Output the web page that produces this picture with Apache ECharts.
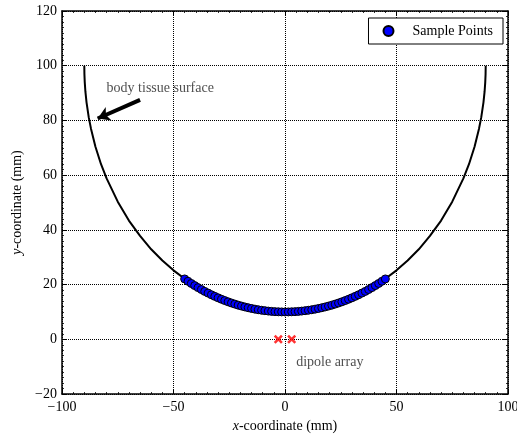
<!DOCTYPE html>
<html>
<head>
<meta charset="utf-8">
<script src="https://cdn.jsdelivr.net/npm/echarts@6/dist/echarts.min.js"></script>
<style>
html,body{margin:0;padding:0;background:#fff;overflow:hidden;}
#chart{width:517px;height:434px;}
</style>
</head>
<body>
<div id="chart"></div>
<script>
// body tissue surface
var surfaceX=[-90,-89.95,-89.8,-89.5,-89,-88,-87,-85,-82.5,-80,-75,-70,-65,-60,-55,-50,-45,-40,-35,-30,-25,-20,-15,-10,-5,0,
	5,10,15,20,25,30,35,40,45,50,55,60,65,70,75,80,82.5,85,87,88,89,89.5,89.8,89.95,90];
var surfaceY=[100,97.0,94.0,90.5,86.6,81.1,77.0,70.4,64.0,58.8,50.3,43.4,37.8,32.9,28.8,25.2,22.1,19.4,17.1,15.2,13.5,12.3,11.3,10.6,10.1,10.0,
	10.1,10.6,11.3,12.3,13.5,15.2,17.1,19.4,22.1,25.2,28.8,32.9,37.8,43.4,50.3,58.8,64.0,70.4,77.0,81.1,86.6,90.5,94.0,97.0,100];
// sample points
var sampleX=[-45,-43.5,-42,-40.5,-39,-37.5,-36,-34.5,-33,-31.5,-30,-28.5,-27,-25.5,-24,-22.5,-21,-19.5,-18,-16.5,-15,
	-13.5,-12,-10.5,-9,-7.5,-6,-4.5,-3,-1.5,0,1.5,3,4.5,6,7.5,9,10.5,12,13.5,
	15,16.5,18,19.5,21,22.5,24,25.5,27,28.5,30,31.5,33,34.5,36,37.5,39,40.5,42,43.5,45];
var sampleY=[22.06,21.21,20.40,19.63,18.89,18.19,17.51,16.88,16.27,15.69,15.15,14.63,14.15,13.69,13.26,12.86,12.48,12.14,11.82,11.53,11.26,
	11.02,10.80,10.61,10.45,10.31,10.20,10.11,10.05,10.01,10.00,10.01,10.05,10.11,10.20,10.31,10.45,10.61,10.80,11.02,
	11.26,11.53,11.82,12.14,12.48,12.86,13.26,13.69,14.15,14.63,15.15,15.69,16.27,16.88,17.51,18.19,18.89,19.63,20.40,21.21,22.06];
// dipole array
var dipoleX=[-3,3];
var dipoleY=[0,0];

var FONT='Liberation Serif';

function pairs(xs,ys){
	var out=[];
	for(var i=0;i<xs.length;i++){
		out.push([xs[i],ys[i]]);
	}
	return out;
}
function minus(v){
	return String(v).replace('-','\u2212');
}

var chart=echarts.init(document.getElementById('chart'),null,{renderer:'canvas'});

var frameLine={show:true,onZero:false,lineStyle:{color:'#000',width:1.5}};
var tickIn={show:true,inside:true,length:5,lineStyle:{color:'#000',width:1}};
var minorIn={show:true,splitNumber:10,length:2,lineStyle:{color:'#000',width:0.8}};
var gridDots={show:true,lineStyle:{color:'#000',type:'dotted',width:1}};

var xrMark='path://M0,2L2,0L5,3L8,0L10,2L7,5L10,8L8,10L5,7L2,10L0,8L3,5Z';

var option={
	animation:false,
	grid:{left:62,right:9,top:11,bottom:40,containLabel:false,outerBoundsMode:'none'},
	legend:{
		data:['Sample Points'],
		right:14,
		top:18,
		orient:'horizontal',
		backgroundColor:'#fff',
		borderColor:'#000',
		borderWidth:1,
		borderRadius:0,
		padding:[6,10,6,14],
		itemWidth:10,
		itemHeight:10,
		textStyle:{fontFamily:FONT,fontSize:14,color:'#000',padding:[0,0,0,14]}
	},
	xAxis:[
		{
			type:'value',
			min:-100,
			max:100,
			interval:50,
			position:'bottom',
			name:'{i|x}-coordinate (mm)',
			nameLocation:'middle',
			nameGap:24,
			nameTextStyle:{
				fontFamily:FONT,fontSize:14,color:'#000',
				rich:{i:{fontFamily:FONT,fontSize:14,fontStyle:'italic',color:'#000'}}
			},
			axisLine:frameLine,
			axisTick:tickIn,
			minorTick:minorIn,
			splitLine:gridDots,
			axisLabel:{fontFamily:FONT,fontSize:14,color:'#000',margin:6,formatter:minus}
		},
		{
			type:'value',
			min:-100,
			max:100,
			interval:50,
			position:'top',
			axisLine:frameLine,
			axisTick:tickIn,
			minorTick:minorIn,
			splitLine:{show:false},
			axisLabel:{show:false}
		}
	],
	yAxis:[
		{
			type:'value',
			min:-20,
			max:120,
			interval:20,
			position:'left',
			name:'{i|y}-coordinate (mm)',
			nameLocation:'middle',
			nameGap:37,
			nameRotate:90,
			nameTextStyle:{
				fontFamily:FONT,fontSize:14,color:'#000',
				rich:{i:{fontFamily:FONT,fontSize:14,fontStyle:'italic',color:'#000'}}
			},
			axisLine:frameLine,
			axisTick:tickIn,
			minorTick:minorIn,
			splitLine:gridDots,
			axisLabel:{fontFamily:FONT,fontSize:14,color:'#000',margin:5,formatter:minus}
		},
		{
			type:'value',
			min:-20,
			max:120,
			interval:20,
			position:'right',
			axisLine:frameLine,
			axisTick:tickIn,
			minorTick:minorIn,
			splitLine:{show:false},
			axisLabel:{show:false}
		}
	],
	series:[
		{
			name:'surface',
			type:'line',
			data:pairs(surfaceX,surfaceY),
			showSymbol:false,
			smooth:false,
			lineStyle:{color:'#000',width:2},
			z:2,
			silent:true,
			markLine:{
				silent:true,
				symbol:['none','arrow'],
				symbolSize:[11,12],
				label:{show:false},
				lineStyle:{color:'#000',width:4,type:'solid'},
				data:[[{coord:[-65,87.5]},{coord:[-84,80.7]}]]
			}
		},
		{
			name:'Sample Points',
			type:'scatter',
			data:pairs(sampleX,sampleY),
			symbol:'circle',
			symbolSize:8,
			itemStyle:{color:'#0000ff',borderColor:'#000',borderWidth:1,opacity:1},
			z:3
		},
		{
			name:'dipole',
			type:'scatter',
			data:pairs(dipoleX,dipoleY),
			symbol:xrMark,
			symbolSize:9,
			itemStyle:{color:'#ff0000'},
			z:4
		},
		{
			name:'labels',
			type:'scatter',
			symbolSize:0,
			silent:true,
			data:[
				{value:[-80,91.8],label:{formatter:'body tissue surface'}},
				{value:[5,-8.4],label:{formatter:'dipole array'}}
			],
			label:{show:true,position:'right',distance:0,fontFamily:FONT,fontSize:14,color:'#222'},
			z:5
		}
	]
};

chart.setOption(option);
</script>
</body>
</html>
